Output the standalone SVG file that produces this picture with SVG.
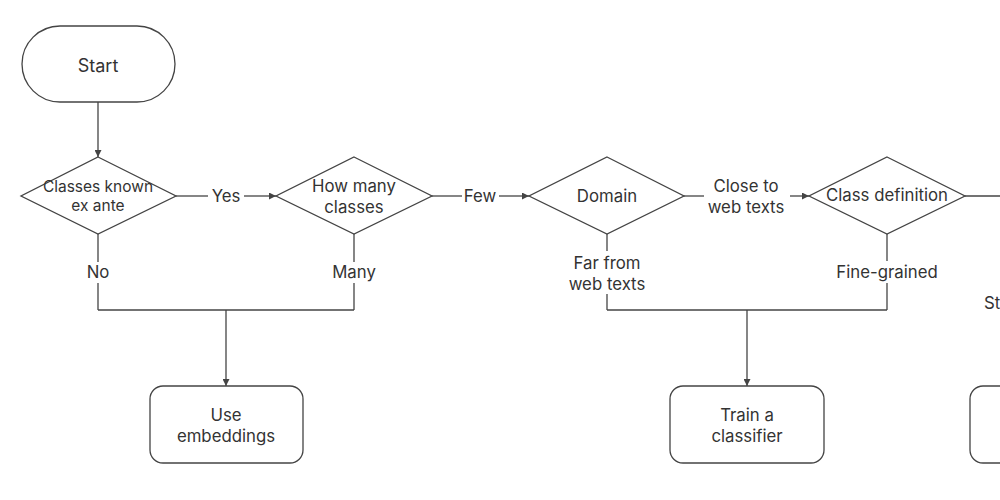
<svg xmlns="http://www.w3.org/2000/svg" width="1000" height="500" viewBox="0 0 1000 500">
<defs>
<marker id="arr" viewBox="0 0 10 10" refX="10" refY="5" markerWidth="7" markerHeight="7" markerUnits="userSpaceOnUse" orient="auto">
<path d="M0,0 L10,5 L0,10 z" fill="#444"/>
</marker>
<style>
.shape{fill:#fff;stroke:#444;stroke-width:1.3}
.line{fill:none;stroke:#444;stroke-width:1.3}
text{font-family:Inter,"Liberation Sans",sans-serif;font-size:16.8px;fill:#333;text-anchor:middle;dominant-baseline:central}
</style>
</defs>
<rect width="1000" height="500" fill="#fff"/>
<g id="connectors">
<line class="line" x1="98" y1="102" x2="98" y2="157" marker-end="url(#arr)"/>
<line class="line" x1="176" y1="196" x2="208" y2="196"/>
<line class="line" x1="244" y1="196" x2="276" y2="196" marker-end="url(#arr)"/>
<text x="226" y="196">Yes</text>
<line class="line" x1="432" y1="196" x2="462" y2="196"/>
<line class="line" x1="499" y1="196" x2="529" y2="196" marker-end="url(#arr)"/>
<text x="480" y="196">Few</text>
<line class="line" x1="684" y1="196" x2="704" y2="196"/>
<line class="line" x1="790" y1="196" x2="809" y2="196" marker-end="url(#arr)"/>
<text x="746" y="186">Close to</text>
<text x="746" y="207">web texts</text>
<line class="line" x1="965" y1="196" x2="1000" y2="196"/>
<line class="line" x1="98" y1="234" x2="98" y2="262"/>
<line class="line" x1="98" y1="283" x2="98" y2="310"/>
<text x="98" y="272">No</text>
<line class="line" x1="354" y1="234" x2="354" y2="262"/>
<line class="line" x1="354" y1="283" x2="354" y2="310"/>
<text x="354" y="272">Many</text>
<line class="line" x1="98" y1="310" x2="354" y2="310"/>
<line class="line" x1="226" y1="310" x2="226" y2="386" marker-end="url(#arr)"/>
<line class="line" x1="607" y1="234" x2="607" y2="251"/>
<line class="line" x1="607" y1="294" x2="607" y2="310"/>
<text x="607" y="263">Far from</text>
<text x="607" y="284">web texts</text>
<line class="line" x1="887" y1="234" x2="887" y2="261"/>
<line class="line" x1="887" y1="283" x2="887" y2="310"/>
<text x="887" y="272">Fine-grained</text>
<line class="line" x1="607" y1="310" x2="887" y2="310"/>
<line class="line" x1="747" y1="310" x2="747" y2="386" marker-end="url(#arr)"/>
<text x="984" y="303" style="text-anchor:start">St</text>
</g>
<g id="start">
<rect class="shape" x="22" y="26" width="153" height="76" rx="38" ry="38"/>
<text x="98" y="65" style="font-size:18px">Start</text>
</g>
<g id="classes-known">
<polygon class="shape" points="98,157 176,196 98,234 21,196"/>
<text x="98" y="186" style="font-size:15.5px">Classes known</text>
<text x="98" y="205" style="font-size:15.5px">ex ante</text>
</g>
<g id="how-many">
<polygon class="shape" points="354,157 432,196 354,234 276,196"/>
<text x="354" y="186">How many</text>
<text x="354" y="207">classes</text>
</g>
<g id="domain">
<polygon class="shape" points="607,157 684,196 607,234 529,196"/>
<text x="607" y="196">Domain</text>
</g>
<g id="class-definition">
<polygon class="shape" points="887,157 965,196 887,234 809,196"/>
<text x="887" y="195">Class definition</text>
</g>
<g id="use-embeddings">
<rect class="shape" x="150" y="386" width="153" height="77" rx="13" ry="13"/>
<text x="226" y="415">Use</text>
<text x="226" y="436">embeddings</text>
</g>
<g id="train-classifier">
<rect class="shape" x="670" y="386" width="154" height="77" rx="13" ry="13"/>
<text x="747" y="415">Train a</text>
<text x="747" y="436">classifier</text>
</g>
<g id="right-box">
<rect class="shape" x="970" y="386" width="154" height="77" rx="13" ry="13"/>
</g>
</svg>
